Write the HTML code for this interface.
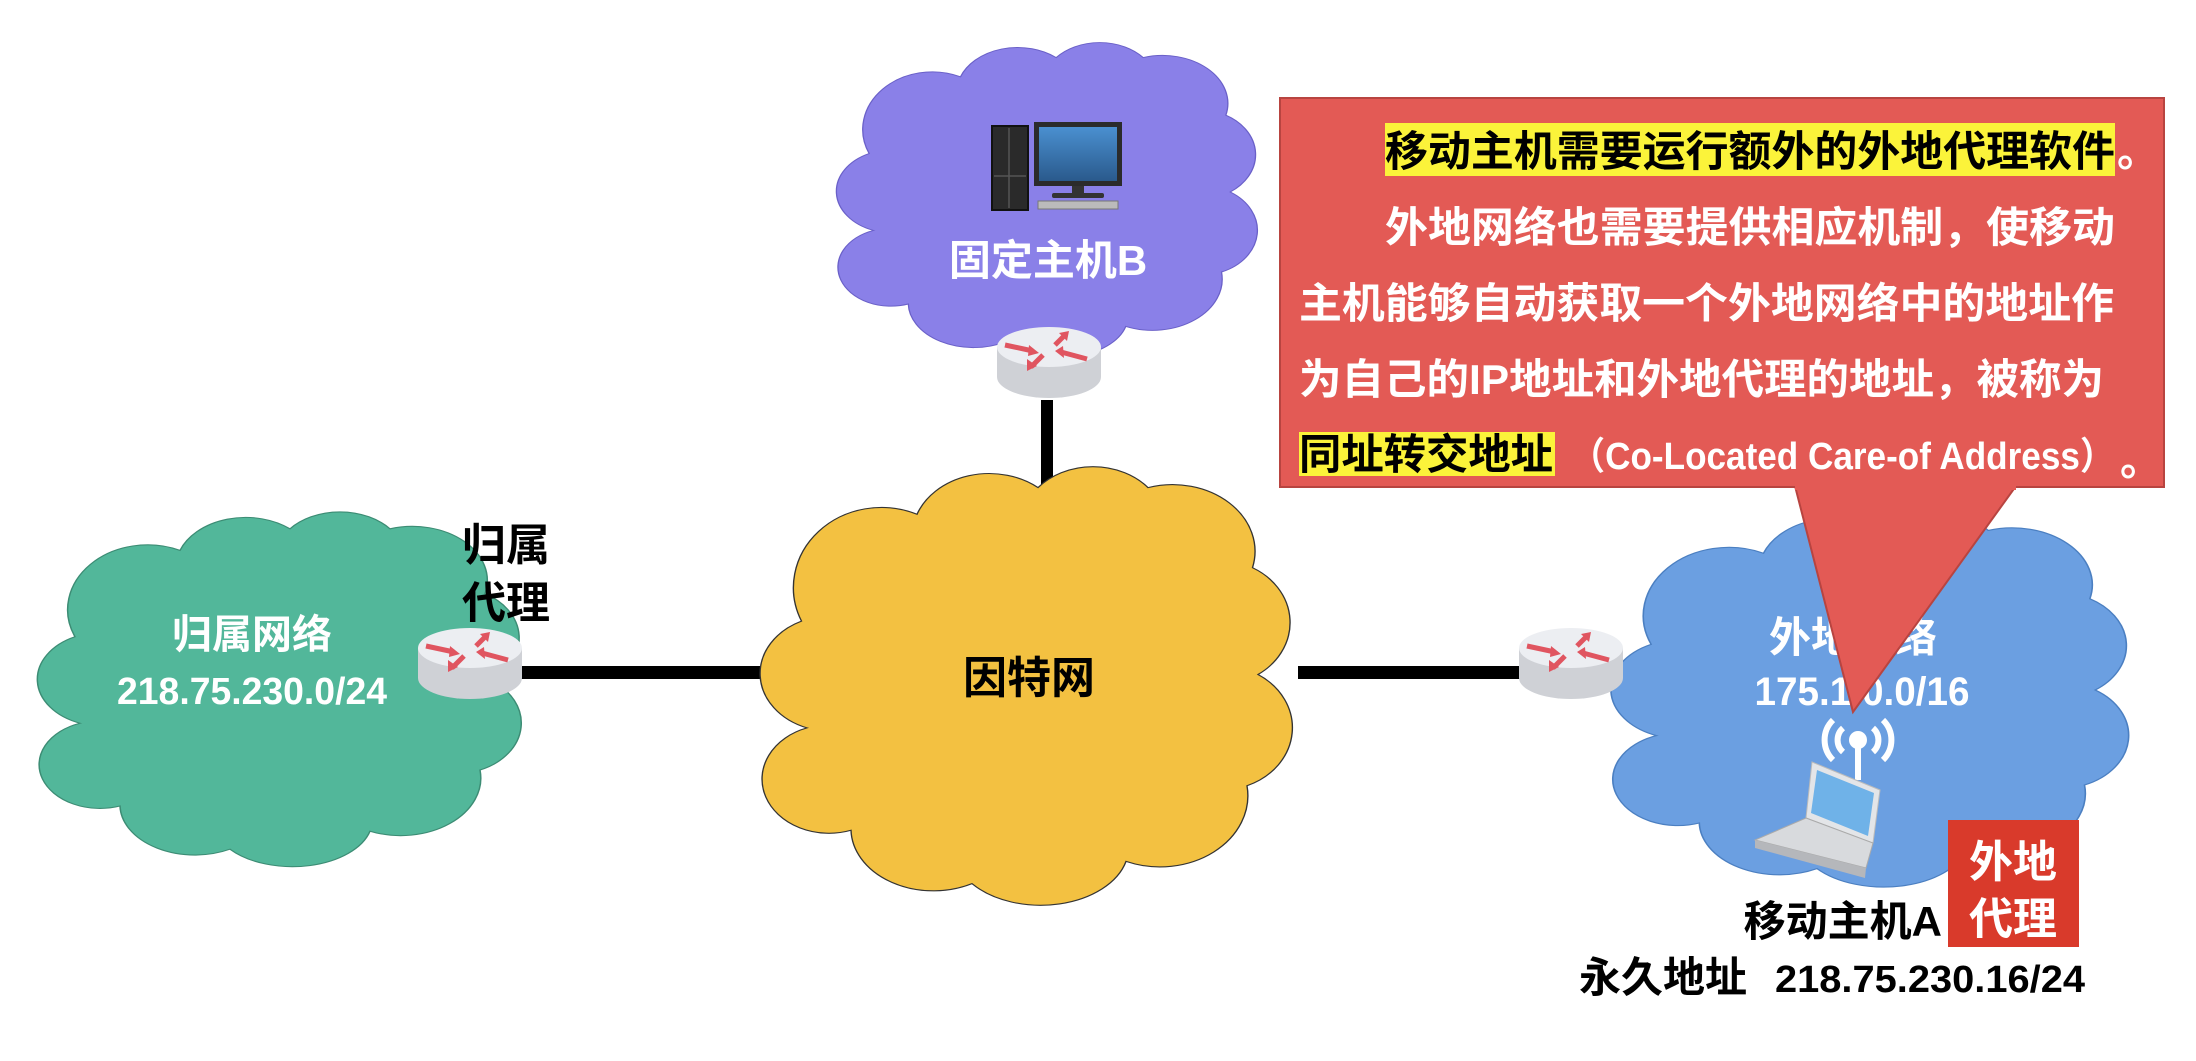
<!DOCTYPE html>
<html><head><meta charset="utf-8"><style>
html,body{margin:0;padding:0;background:#fff;}
svg text{font-family:"Liberation Sans","Noto Sans CJK SC",sans-serif;font-weight:bold;}
</style></head><body>
<svg width="2196" height="1056" viewBox="0 0 2196 1056" xmlns="http://www.w3.org/2000/svg">
<defs>
<path id="cloud" d="M 10 62 A 13 13 0 0 1 9 38 A 16 18 0 0 1 30 14 A 14 14 0 0 1 52 8 A 13 13 0 0 1 72 8 A 15 15 0 0 1 91 26 A 13 14 0 0 1 92 50 A 13 14 0 0 1 90 75 A 16 16 0 0 1 68 92 A 16 13 0 0 1 40 97 A 15 14 0 0 1 18 85 A 12 12 0 0 1 10 62 Z"/>
<linearGradient id="rg" x1="0" y1="0" x2="0" y2="1"><stop offset="0" stop-color="#f2f3f6"/><stop offset="1" stop-color="#c9cbd1"/></linearGradient>
<linearGradient id="scr" x1="0" y1="0" x2="0" y2="1"><stop offset="0" stop-color="#4a90d0"/><stop offset="1" stop-color="#2a5a8c"/></linearGradient>
<g id="router">
<path d="M0 20 L0 50 A52 21 0 0 0 104 50 L104 20 Z" fill="#cfd1d6"/>
<ellipse cx="52" cy="20" rx="52" ry="20" fill="#eceef2"/>
<g stroke="#e05560" stroke-width="5" fill="#e05560">
<line x1="8" y1="18" x2="36" y2="24"/><polygon points="42,26 32,18 31,29" stroke="none"/>
<line x1="90" y1="32" x2="64" y2="25"/><polygon points="58,24 66,19 67,31" stroke="none"/>
<line x1="46" y1="28" x2="34" y2="40"/><polygon points="30,44 30,32 40,39" stroke="none"/>
<line x1="58" y1="18" x2="68" y2="8"/><polygon points="72,4 62,6 70,14" stroke="none"/>
</g>
</g>
</defs>

<!-- lines -->
<rect x="520" y="666" width="240" height="13" fill="#000"/>
<rect x="1298" y="666" width="225" height="13" fill="#000"/>
<rect x="1041" y="400" width="12" height="100" fill="#000"/>

<!-- clouds -->
<use href="#cloud" transform="translate(30,500) scale(5.0,3.6)" fill="#52b79a" stroke="#3c8c74" stroke-width="0.3"/>
<use href="#cloud" transform="translate(752,452) scale(5.5,4.45)" fill="#f3c141" stroke="#333" stroke-width="0.25"/>
<use href="#cloud" transform="translate(830,32) scale(4.35,3.2)" fill="#8a80e8" stroke="#6a60c8" stroke-width="0.3"/>
<use href="#cloud" transform="translate(1603,500) scale(5.35,3.8)" fill="#6b9fe1" stroke="#4b7fc1" stroke-width="0.3"/>

<!-- routers -->
<use href="#router" transform="translate(418,628)"/>
<use href="#router" transform="translate(997,327)"/>
<use href="#router" transform="translate(1519,628)"/>

<!-- computer -->
<rect x="992" y="126" width="36" height="84" fill="#2a2a2a" stroke="#111" stroke-width="2"/>
<line x1="1009" y1="128" x2="1009" y2="208" stroke="#555" stroke-width="1.5"/>
<line x1="994" y1="176" x2="1026" y2="176" stroke="#555" stroke-width="1.5"/>
<rect x="1034" y="122" width="88" height="64" fill="#2b2b2b"/>
<rect x="1039" y="127" width="78" height="54" fill="url(#scr)"/>
<rect x="1072" y="186" width="12" height="10" fill="#333"/>
<rect x="1052" y="193" width="52" height="5" rx="2" fill="#333"/>
<rect x="1038" y="201" width="80" height="8" fill="#bbb" stroke="#777"/>

<!-- labels -->
<text x="1048" y="275" font-size="42" fill="#fff" text-anchor="middle">固定主机B</text>
<text x="252" y="648" font-size="40" fill="#fff" text-anchor="middle">归属网络</text>
<text x="252" y="704" font-size="38" fill="#fff" text-anchor="middle" textLength="270" lengthAdjust="spacingAndGlyphs">218.75.230.0/24</text>
<text x="462" y="560" font-size="44" fill="#000">归属</text>
<text x="462" y="618" font-size="44" fill="#000">代理</text>
<text x="1029" y="693" font-size="44" fill="#000" text-anchor="middle">因特网</text>
<text x="1853" y="652" font-size="42" fill="#fff" text-anchor="middle">外地网络</text>
<text x="1862" y="705" font-size="40" fill="#fff" text-anchor="middle" textLength="215" lengthAdjust="spacingAndGlyphs">175.1.0.0/16</text>

<!-- wifi + laptop -->
<g stroke="#fff" fill="none" stroke-width="6">
<path d="M1843 728 A16 16 0 0 0 1843 752"/><path d="M1873 728 A16 16 0 0 1 1873 752"/>
<path d="M1833 720 A28 28 0 0 0 1833 760"/><path d="M1883 720 A28 28 0 0 1 1883 760"/>
</g>
<circle cx="1858" cy="740" r="9" fill="#fff"/>
<rect x="1855" y="740" width="6" height="40" fill="#fff"/>
<polygon points="1812,762 1880,790 1873,843 1806,818" fill="#e3e5e8" stroke="#bbb"/>
<polygon points="1817,770 1874,793 1868,836 1811,813" fill="#6fb2e8"/>
<polygon points="1806,818 1873,843 1866,868 1755,840" fill="#d8dadd" stroke="#aaa"/>
<polygon points="1755,840 1866,868 1865,878 1755,848" fill="#b5b7bb"/>

<!-- callout -->
<polygon points="1795,486 2016,486 1853,712" fill="#e35a55" stroke="#b84440" stroke-width="2"/>
<rect x="1280" y="98" width="884" height="389" fill="#e35a55" stroke="#b84440" stroke-width="2"/>
<rect x="1795" y="484" width="221" height="6" fill="#e35a55"/>
<rect x="1385" y="123" width="730" height="53" fill="#fbf33a"/>
<rect x="1299" y="432" width="256" height="44" fill="#fbf33a"/>
<text x="1385" y="166" font-size="42" fill="#000" textLength="730" lengthAdjust="spacingAndGlyphs">移动主机需要运行额外的外地代理软件</text>
<text x="2117" y="166" font-size="42" fill="#fff">。</text>
<text x="1385" y="242" font-size="42" fill="#fff" textLength="730" lengthAdjust="spacingAndGlyphs">外地网络也需要提供相应机制，使移动</text>
<text x="1299" y="318" font-size="42" fill="#fff" textLength="815" lengthAdjust="spacingAndGlyphs">主机能够自动获取一个外地网络中的地址作</text>
<text x="1299" y="394" font-size="42" fill="#fff" textLength="805" lengthAdjust="spacingAndGlyphs">为自己的IP地址和外地代理的地址，被称为</text>
<text x="1299" y="469" font-size="42" fill="#000" textLength="254" lengthAdjust="spacingAndGlyphs">同址转交地址</text>
<text x="1570" y="469" font-size="38" fill="#fff" textLength="545" lengthAdjust="spacingAndGlyphs">（Co-Located Care-of Address）</text>
<text x="2120" y="475" font-size="42" fill="#fff">。</text>

<!-- bottom -->
<rect x="1948" y="820" width="131" height="127" fill="#d93a2b"/>
<text x="2013" y="877" font-size="44" fill="#fff" text-anchor="middle">外地</text>
<text x="2013" y="934" font-size="44" fill="#fff" text-anchor="middle">代理</text>
<text x="1942" y="936" font-size="42" fill="#000" text-anchor="end">移动主机A</text>
<text x="1579" y="992" font-size="42" fill="#000">永久地址</text>
<text x="1775" y="992" font-size="38" fill="#000" textLength="310" lengthAdjust="spacingAndGlyphs">218.75.230.16/24</text>
</svg>
</body></html>
